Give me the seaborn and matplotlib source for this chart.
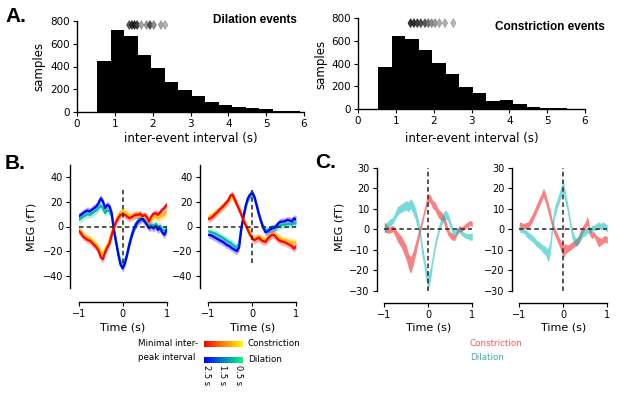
import numpy as np
import matplotlib
matplotlib.use("Agg")
import matplotlib.pyplot as plt
import seaborn as sns

W, H = 617, 394

# -------------------- DATA: panel A (histograms) --------------------
BIN_EDGES = [0.53, 0.887, 1.244, 1.601, 1.958, 2.315, 2.672, 3.029, 3.386,
             3.743, 4.1, 4.457, 4.814, 5.171, 5.528, 5.885]
DIL_COUNTS = [449, 718, 671, 498, 384, 264, 190, 141, 85, 64, 47, 35, 23, 12, 6]
CON_COUNTS = [365, 638, 615, 515, 403, 309, 197, 138, 71, 79, 47, 21, 12, 6, 3]

DIL_DIAMOND_X = [1.38, 1.45, 1.52, 1.59, 1.70, 1.84, 1.93, 2.03, 2.22, 2.33]
DIL_DIAMOND_GREY = [0.35, 0.2, 0.15, 0.25, 0.65, 0.6, 0.3, 0.55, 0.65, 0.7]
CON_DIAMOND_X = [1.39, 1.48, 1.57, 1.66, 1.77, 1.86, 1.95, 2.04, 2.15, 2.30, 2.52]
CON_DIAMOND_GREY = [0.2, 0.2, 0.25, 0.3, 0.35, 0.45, 0.55, 0.6, 0.68, 0.7, 0.72]

# -------------------- DATA: panel B (MEG per interval) --------------------
TIME_B = np.round(np.arange(-1, 1.0001, 0.05), 2)

# left column
B1_DIL_LONG = [8.2, 9.5, 10.9, 12.2, 13.0, 12.2, 13.6, 15.0, 16.3, 19.0, 23.0, 20.4, 15.0, 17.7,
               16.3, 10.9, -3.0, -13.0, -23.0, -31.0, -34.0, -30.0, -23.0, -15.0, -8.2, -2.7,
               1.4, 4.0, 5.4, 6.3, 4.0, 1.4, -1.4, 0.0, -1.4, 0.5, -2.7, -1.4, -4.9, -6.8, -2.7]
B1_DIL_SHORT = [5.5, 6.5, 8.0, 9.0, 10.0, 9.5, 10.5, 12.0, 13.0, 15.0, 17.0, 15.0, 11.0, 13.0,
                12.5, 9.0, -2.0, -12.0, -21.0, -29.0, -31.0, -28.0, -22.0, -14.0, -7.0, -1.5,
                2.5, 5.0, 6.5, 7.0, 5.5, 3.0, 1.0, 1.5, 0.5, 2.0, 0.0, 0.5, -2.5, -4.0, -0.5]
B1_CON_LONG = [-3.3, -5.4, -8.2, -9.5, -10.9, -11.4, -13.0, -15.0, -16.9, -19.6, -25.0, -26.5,
               -21.0, -16.9, -14.0, -7.0, -1.0, 3.5, 7.0, 9.5, 10.0, 9.5, 8.2, 6.8, 7.6, 8.7,
               9.5, 9.5, 10.3, 8.2, 9.5, 7.6, 4.0, 8.2, 10.3, 10.9, 9.5, 11.4, 13.6, 15.0, 17.7]
B1_CON_SHORT = [-2.0, -4.0, -6.5, -8.0, -9.0, -9.5, -11.0, -13.0, -14.5, -17.0, -21.0, -22.0,
                -19.0, -15.0, -11.5, -5.5, 0.5, 5.0, 9.0, 11.5, 12.5, 12.0, 10.5, 9.0, 9.0, 9.5,
                9.5, 9.0, 9.5, 7.5, 8.0, 6.0, 3.5, 6.0, 7.5, 8.0, 6.5, 7.5, 8.5, 9.5, 12.0]

# right column
B2_DIL_LONG = [-6.8, -7.0, -8.0, -9.0, -10.0, -11.0, -12.0, -13.0, -14.5, -15.5, -16.5, -18.0,
               -19.0, -20.0, -17.0, -2.0, 8.0, 17.0, 23.0, 26.0, 27.5, 24.0, 17.0, 10.0, 4.0,
               -1.0, -4.5, -4.0, -2.5, -1.5, -1.0, 0.5, 3.0, 4.0, 4.0, 4.5, 5.4, 5.0, 4.0, 6.8, 5.4]
B2_DIL_SHORT = [-4.0, -4.5, -5.0, -5.5, -6.5, -7.5, -8.5, -9.5, -11.0, -12.0, -13.0, -14.5,
                -16.0, -17.0, -14.0, -1.0, 8.0, 16.0, 22.0, 25.0, 26.5, 23.0, 17.0, 10.0, 4.0,
                -0.5, -3.0, -3.0, -2.0, -1.5, -1.5, -1.0, 0.5, 1.0, 1.5, 1.5, 2.0, 2.0, 1.5, 3.0, 2.0]
B2_CON_LONG = [6.0, 6.8, 8.0, 10.0, 11.4, 13.6, 15.0, 17.0, 19.0, 21.0, 25.0, 26.0, 22.0, 18.0,
               14.0, 9.5, 5.0, 1.0, -3.0, -6.8, -9.5, -11.0, -10.0, -9.0, -11.0, -12.0, -12.5,
               -10.0, -8.0, -6.8, -7.0, -9.0, -11.0, -12.0, -12.5, -13.0, -14.0, -15.0, -16.0,
               -18.0, -16.0]
B2_CON_SHORT = [7.5, 8.5, 9.5, 11.0, 12.5, 14.0, 15.5, 17.0, 18.5, 20.0, 23.0, 24.0, 21.0, 18.0,
                15.0, 11.0, 6.5, 2.5, -1.5, -5.0, -8.0, -9.5, -9.0, -8.0, -9.5, -10.5, -11.0,
                -9.0, -7.0, -6.0, -6.0, -7.5, -9.0, -10.0, -10.5, -11.0, -11.5, -12.0, -12.5,
                -13.5, -12.5]

# -------------------- DATA: panel C (confidence bands) --------------------
TIME_C = [-1.0, -0.9, -0.8, -0.7, -0.6, -0.5, -0.45, -0.4, -0.35, -0.3, -0.25, -0.2, -0.15,
          -0.1, -0.05, 0.0, 0.05, 0.1, 0.15, 0.2, 0.25, 0.3, 0.35, 0.4, 0.45, 0.5, 0.55, 0.6,
          0.65, 0.7, 0.75, 0.8, 0.85, 0.9, 0.95, 1.0]

C1_CON_HI = [3.6, 1.0, 2.0, -1.3, -3.7, -8.0, -12.0, -13.5, -11.0, -7.0, -3.0, 1.0, 5.0, 9.3,
             14.0, 17.4, 16.6, 14.0, 13.4, 11.0, 9.3, 8.5, 6.8, 4.4, 0.3, -1.3, -2.0, -3.0,
             -0.5, 2.0, 1.0, 2.0, 2.8, 3.6, 4.4, 3.6]
C1_CON_LO = [-1.3, -2.0, -1.3, -6.0, -9.5, -15.0, -19.0, -21.7, -18.0, -13.5, -8.6, -3.7, 1.0,
             6.0, 10.0, 13.4, 12.5, 10.0, 9.3, 6.8, 5.0, 4.4, 2.8, -0.5, -3.0, -4.6, -5.4,
             -5.4, -3.0, -1.3, -1.3, -0.5, 0.3, 1.0, 2.0, 1.0]
C1_DIL_HI = [2.0, 4.4, 6.0, 11.0, 12.5, 14.0, 13.4, 15.0, 13.4, 11.0, 6.8, 2.0, -5.4, -12.0,
             -18.4, -21.7, -18.4, -12.0, -6.0, -1.3, 2.8, 6.0, 8.5, 9.3, 7.6, 4.4, 1.0, -0.5,
             0.3, 1.0, -0.5, -1.3, -2.0, -2.0, -2.0, -2.0]
C1_DIL_LO = [-2.0, 1.0, 2.8, 6.8, 8.5, 9.3, 8.5, 10.0, 7.6, 5.0, 1.0, -3.7, -12.0, -18.0,
             -25.0, -29.0, -25.0, -16.8, -11.0, -5.4, -1.3, 2.0, 4.4, 5.2, 3.6, 0.3, -2.0,
             -3.7, -2.0, -1.3, -3.0, -3.7, -4.6, -4.6, -5.4, -5.4]

C2_CON_HI = [3.6, 2.8, 3.6, 7.6, 12.5, 17.4, 20.0, 17.4, 13.4, 9.3, 4.4, 1.0, -1.3, -3.7,
             -6.2, -7.8, -7.0, -7.8, -7.0, -6.2, -5.4, -4.6, -3.0, 0.3, 2.0, 3.6, 6.5, 1.0,
             -1.3, -1.3, -3.0, -3.7, -4.6, -3.7, -3.0, -3.7]
C2_CON_LO = [1.0, 0.3, 0.3, 3.6, 8.5, 13.4, 15.8, 12.5, 8.5, 4.4, 0.3, -3.0, -5.4, -7.8,
             -11.0, -14.0, -12.0, -11.0, -10.3, -9.5, -8.6, -7.8, -7.0, -3.7, -1.3, 0.3, 2.0,
             -3.0, -4.6, -3.7, -6.2, -8.6, -7.8, -7.0, -6.2, -7.0]
C2_DIL_HI = [1.0, 0.3, -1.3, -3.0, -5.4, -7.0, -7.8, -8.6, -9.5, -5.4, 4.4, 11.0, 14.0, 17.4,
             20.7, 24.0, 18.0, 12.5, 6.0, 0.3, -3.0, -4.6, -3.0, -1.3, -0.5, 0.3, 1.0, 0.3,
             2.0, 2.0, 2.8, 3.6, 2.8, 3.6, 2.8, 2.0]
C2_DIL_LO = [-1.3, -2.0, -4.6, -6.2, -8.6, -10.3, -11.9, -12.7, -16.0, -12.7, -2.0, 5.2, 9.3,
             12.5, 15.8, 17.4, 12.5, 7.6, 1.0, -4.6, -7.0, -8.6, -7.0, -5.4, -3.7, -3.0, -2.0,
             -2.0, -1.3, -0.5, -0.5, 1.0, -0.5, 0.3, -0.5, -1.3]

# interval levels: 2.5 s (long) and 1.0 s (short) on the 2.5 -> 0.5 s colour scale
LONG_POS, SHORT_POS = 0.0, 0.75
BAND = 3.0

# -------------------- STYLE --------------------
sns.set_style("ticks")
plt.rcParams["font.family"] = ["DejaVu Sans"]
plt.rcParams["axes.linewidth"] = 1.0
plt.rcParams["axes.edgecolor"] = "black"
plt.rcParams["xtick.major.size"] = 3
plt.rcParams["ytick.major.size"] = 3
plt.rcParams["xtick.major.pad"] = 2
plt.rcParams["ytick.major.pad"] = 2
plt.rcParams["xtick.color"] = "black"
plt.rcParams["ytick.color"] = "black"
plt.rcParams["text.color"] = "black"

fig = plt.figure(figsize=(W / 100, H / 100), dpi=100)


def rect(x0, y0, x1, y1):
    return [x0 / W, 1 - y1 / H, (x1 - x0) / W, (y1 - y0) / H]


def put(x, y, s, **kw):
    kw.setdefault("ha", "center")
    kw.setdefault("va", "center")
    fig.text(x / W, 1 - y / H, s, **kw)


# -------------------- PANEL A --------------------
def plot_hist(box, counts, dx, dgrey, dy, title, title_xy, label_x, label_y):
    ax = fig.add_axes(rect(*box))
    centers = [(a + b) / 2 for a, b in zip(BIN_EDGES[:-1], BIN_EDGES[1:])]
    sns.histplot(x=centers, weights=counts, bins=BIN_EDGES, color="black",
                 alpha=1, edgecolor="black", linewidth=0, ax=ax)
    ax.scatter(dx, [dy] * len(dx), marker="d", s=20, c=[str(g) for g in dgrey],
               edgecolors=[str(max(g - 0.15, 0)) for g in dgrey], linewidths=0.4,
               clip_on=False, zorder=4)
    ax.set_xlim(0, 6)
    ax.set_ylim(0, 800)
    ax.set_xticks(range(0, 7))
    ax.set_yticks(range(0, 801, 200))
    ax.set_xlabel("")
    ax.set_ylabel("")
    ax.tick_params(labelsize=7.5)
    sns.despine(ax=ax)
    put(label_x, label_y, "samples", rotation=90, fontsize=8.5)
    put((box[0] + box[2]) / 2, 138, "inter-event interval (s)", fontsize=8.5)
    put(title_xy[0], title_xy[1], title, ha="right", fontsize=8.5,
        fontweight="bold", family=["Liberation Sans"])


plot_hist((77, 21, 304, 112), DIL_COUNTS, DIL_DIAMOND_X, DIL_DIAMOND_GREY, 765,
          "Dilation events", (297, 20), 39, 66)
plot_hist((358, 18, 585, 109), CON_COUNTS, CON_DIAMOND_X, CON_DIAMOND_GREY, 755,
          "Constriction events", (605, 27), 321, 64)


# -------------------- PANEL B --------------------
def style_meg(ax, ylim, yticks, vspan, left_off, bottom_off):
    ax.axhline(0, color="0.15", lw=1.1, dashes=(3, 2), zorder=6)
    ax.axvline(0, ymin=vspan[0], ymax=vspan[1], color="0.15", lw=1.1,
               dashes=(3, 2), zorder=6)
    ax.set_xlim(-1, 1)
    ax.set_ylim(*ylim)
    ax.set_xticks([-1, 0, 1])
    ax.set_yticks(yticks)
    ax.tick_params(labelsize=7)
    ax.set_xlabel("")
    ax.set_ylabel("")
    sns.despine(ax=ax, offset={"left": left_off, "bottom": bottom_off})


autumn = plt.get_cmap("autumn")
winter = plt.get_cmap("winter")


def plot_meg_lines(box, curves):
    ax = fig.add_axes(rect(*box))
    for vals, col in curves:
        v = np.array(vals)
        ax.fill_between(TIME_B, v - BAND, v + BAND, color=col, alpha=0.3, lw=0)
        sns.lineplot(x=TIME_B, y=v, color=col, lw=1.6, ax=ax, legend=False)
    style_meg(ax, (-50, 50), range(-40, 41, 20), (0.2, 0.8), 6.3, 10)
    return ax


plot_meg_lines((78.7, 165, 166.7, 288), [
    (B1_DIL_SHORT, winter(SHORT_POS)), (B1_CON_SHORT, autumn(SHORT_POS)),
    (B1_DIL_LONG, winter(LONG_POS)), (B1_CON_LONG, autumn(LONG_POS))])
plot_meg_lines((208.3, 165, 296.3, 288), [
    (B2_DIL_SHORT, winter(SHORT_POS)), (B2_CON_SHORT, autumn(SHORT_POS)),
    (B2_DIL_LONG, winter(LONG_POS)), (B2_CON_LONG, autumn(LONG_POS))])

# -------------------- PANEL C --------------------
CON_COL = (0.95, 0.05, 0.05)
DIL_COL = (0.0, 0.72, 0.72)


def plot_meg_bands(box, con_lo, con_hi, dil_lo, dil_hi):
    ax = fig.add_axes(rect(*box))
    ax.fill_between(TIME_C, con_lo, con_hi, color=CON_COL, alpha=0.52, lw=0)
    ax.fill_between(TIME_C, dil_lo, dil_hi, color=DIL_COL, alpha=0.52, lw=0)
    style_meg(ax, (-30, 30), range(-30, 31, 10), (0, 1), 5.5, 8.6)
    return ax


plot_meg_bands((384.3, 167.7, 472.3, 290.7), C1_CON_LO, C1_CON_HI, C1_DIL_LO, C1_DIL_HI)
plot_meg_bands((519.3, 167.7, 607.3, 290.7), C2_CON_LO, C2_CON_HI, C2_DIL_LO, C2_DIL_HI)

# -------------------- LABELS --------------------
for x in (122.7, 252.3):
    put(x, 327, "Time (s)", fontsize=8)
for x in (428.3, 563.3):
    put(x, 328, "Time (s)", fontsize=8)
put(32, 227, "MEG (fT)", rotation=90, fontsize=8)
put(339, 227, "MEG (fT)", rotation=90, fontsize=8)

put(5, 17, "A.", ha="left", fontsize=15, fontweight="bold", family=["Liberation Sans"])
put(5, 163, "B.", ha="left", fontsize=15, fontweight="bold", family=["Liberation Sans"])
put(315, 162, "C.", ha="left", fontsize=15, fontweight="bold", family=["Liberation Sans"])

# colour-scale legend of panel B
gradient = np.linspace(0, 1, 256)[None, :]
for y0, cmap, name in ((341, "autumn", "Constriction"), (357, "winter", "Dilation")):
    cax = fig.add_axes(rect(204, y0, 243, y0 + 6))
    cax.imshow(gradient, cmap=cmap, aspect="auto")
    cax.set_axis_off()
    put(248, y0 + 3, name, ha="left", fontsize=6.3)
put(138, 344, "Minimal inter-", ha="left", fontsize=6.3)
put(138, 357, "peak interval", ha="left", fontsize=6.3)
for x, s in ((206, "2.5 s"), (222.5, "1.5 s"), (238, "0.5 s")):
    put(x, 375, s, rotation=-90, fontsize=6)

# legend of panel C
put(470, 344, "Constriction", ha="left", fontsize=6.3, color="#ee5a50")
put(470, 358, "Dilation", ha="left", fontsize=6.3, color="#3aaeae")

fig.savefig("out.png", dpi=100)
